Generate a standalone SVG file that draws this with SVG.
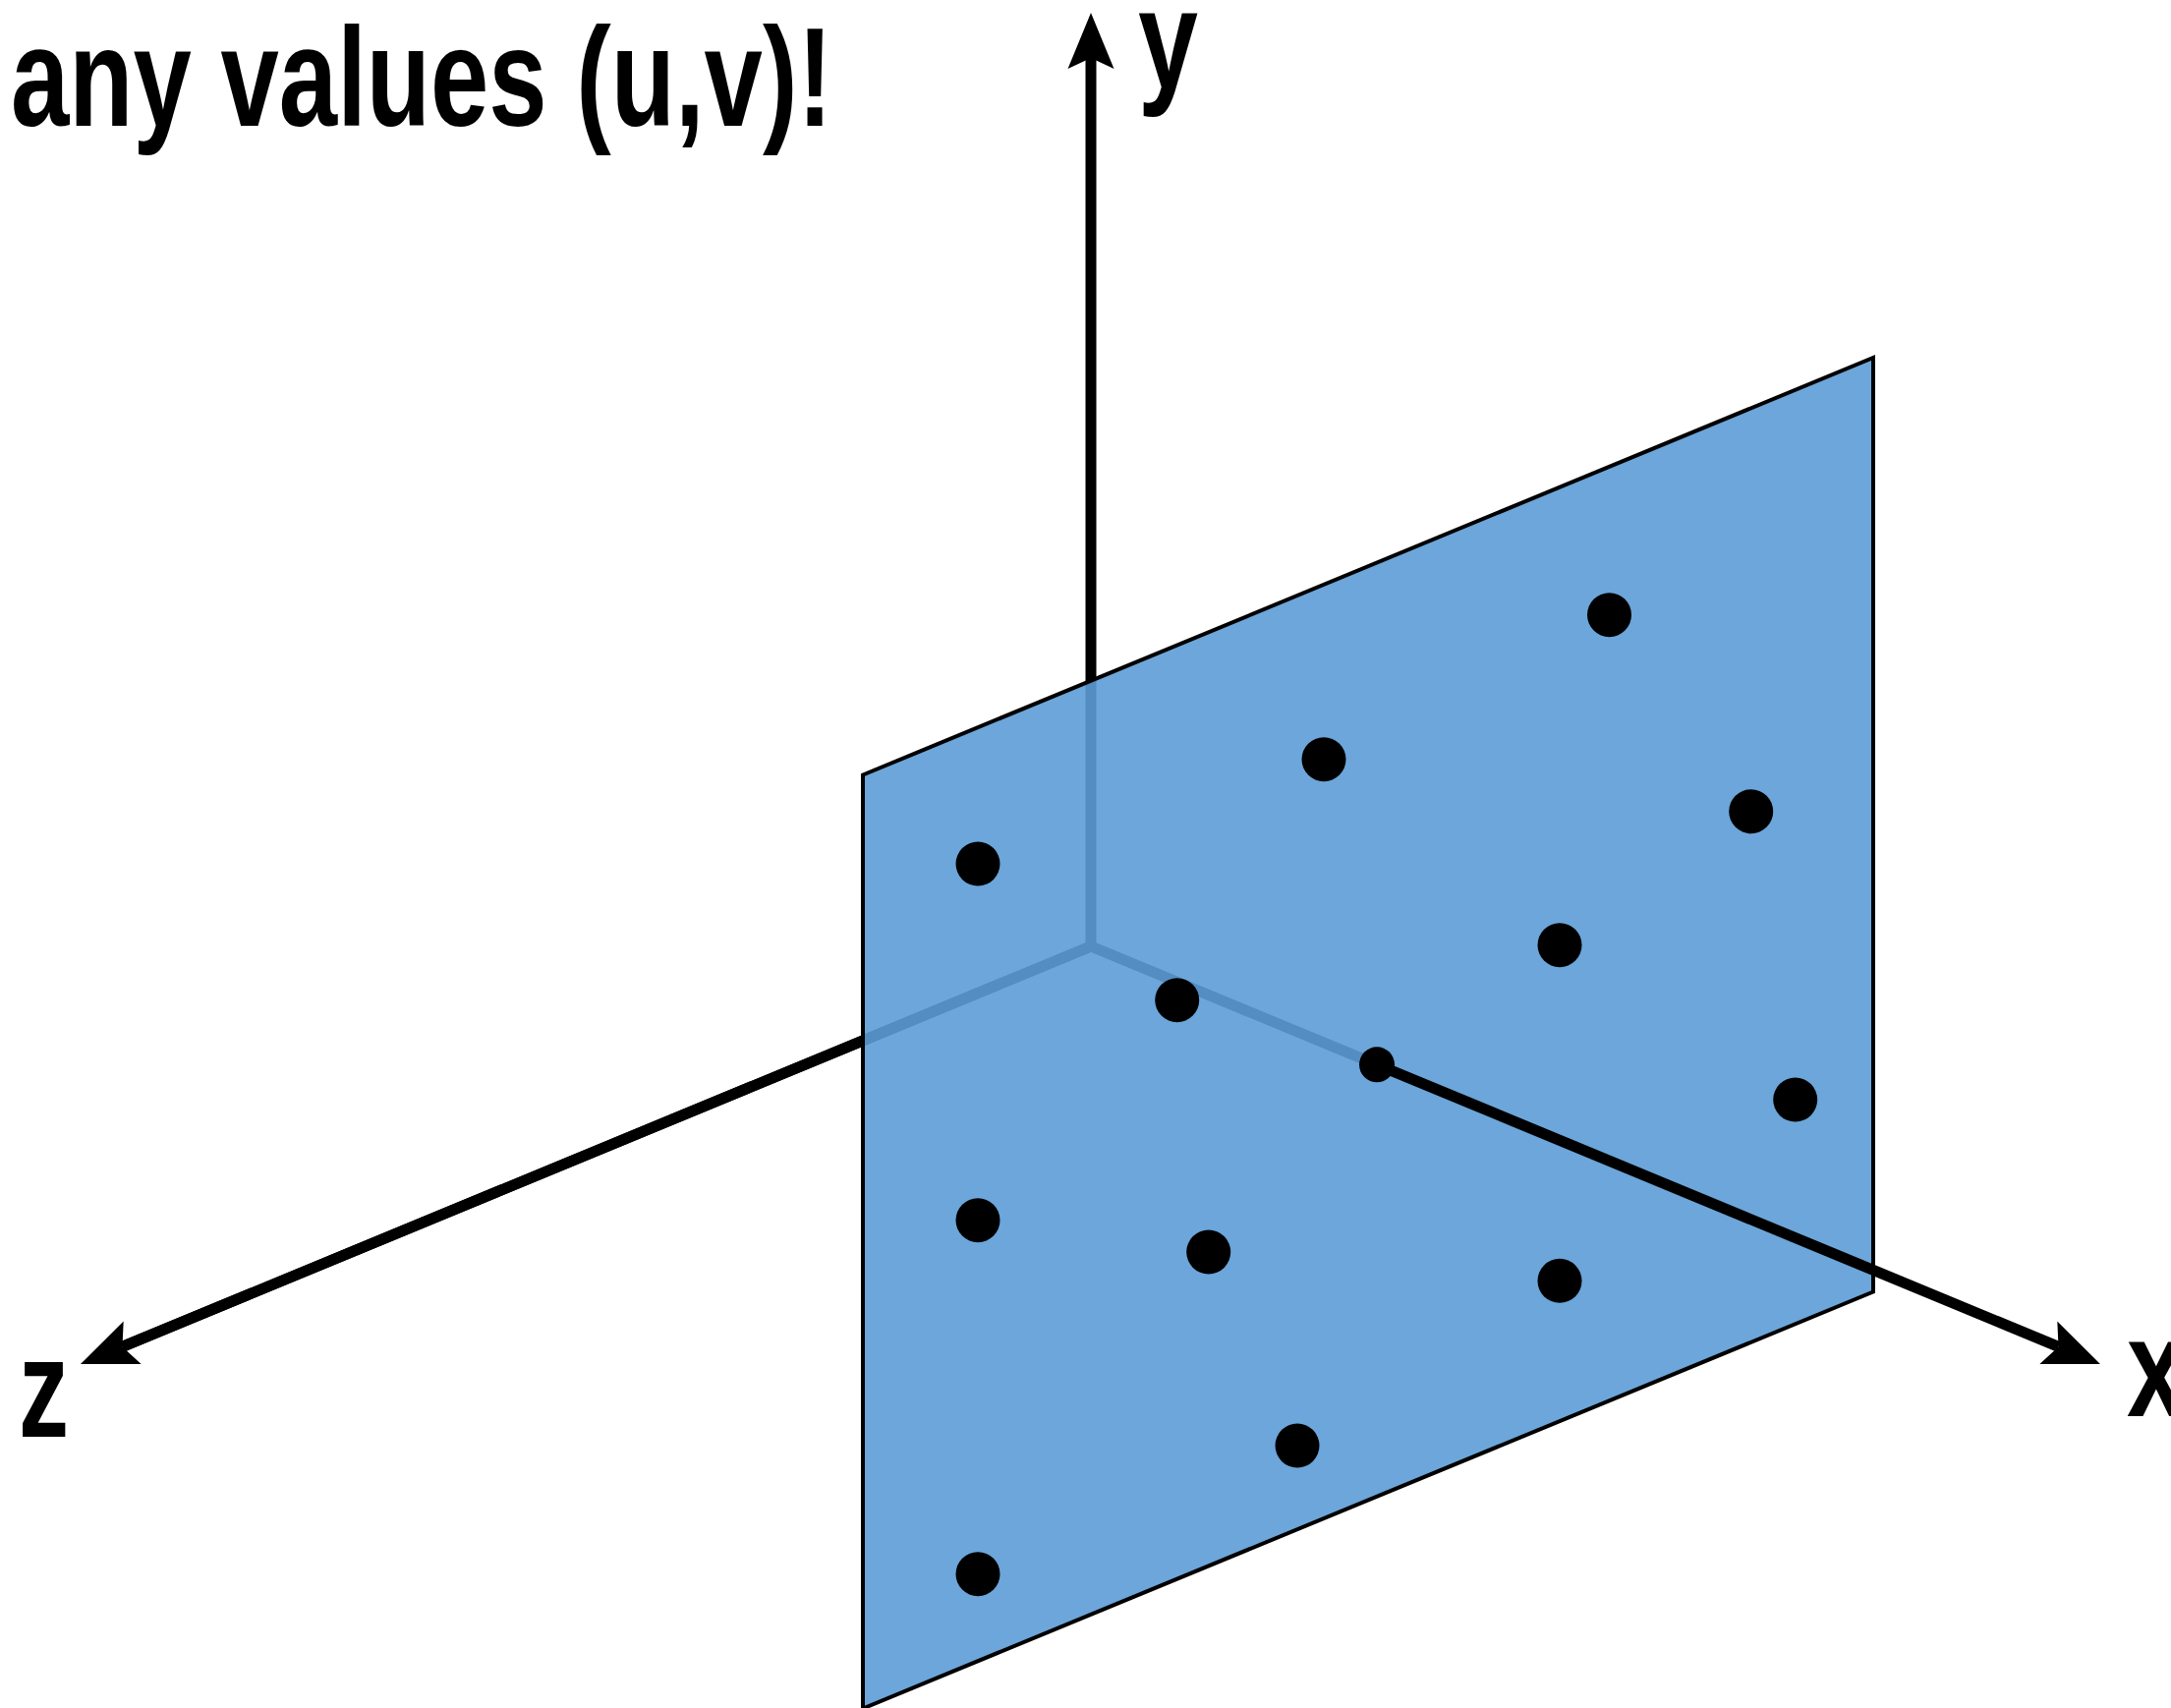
<svg xmlns="http://www.w3.org/2000/svg" width="2209" height="1738" viewBox="0 0 2209 1738">
  <style>
    .lbl { font-family: "Liberation Sans", Arial, sans-serif; font-weight: bold; font-size: 142px; fill: #000; }
    .axis { stroke: #000; stroke-width: 11; fill: none; stroke-linejoin: miter; }
    .plane { fill: #5C9CD6; fill-opacity: 0.9; stroke: #000; stroke-width: 4; stroke-linejoin: miter; }
    .pt { fill: #000; }
  </style>
  <defs>
    <marker id="arrow" markerUnits="userSpaceOnUse" orient="auto" refX="0" refY="0" markerWidth="60" markerHeight="50" overflow="visible">
      <path d="M46,0 L-11,-23.5 L0,0 L-11,23.5 Z" fill="#000"/>
    </marker>
  </defs>
  <rect width="2209" height="1738" fill="#fff"/>

  <g id="title">
    <text class="lbl" x="11" y="128" textLength="836" lengthAdjust="spacingAndGlyphs">any values (u,v)!</text>
  </g>

  <g id="connectors">
    <path id="axis-y" class="axis" d="M1110,963 L1110,59" marker-end="url(#arrow)"/>
    <path id="axis-z-x-back" class="axis" d="M124.5,1370.4 L1110,963 L1401,1083.3"/>
    <path id="axis-z-head" class="axis" d="M1110,963 L124.5,1370.4" marker-end="url(#arrow)"/>
  </g>

  <g id="plane">
    <polygon class="plane" points="878,788.5 1906,364 1906,1314.5 878,1738.5"/>
  </g>

  <g id="connectors-front">
    <path id="axis-x" class="axis" d="M1401,1083.3 L2094.5,1370.4" marker-end="url(#arrow)"/>
  </g>

  <g id="points">
    <circle class="pt" cx="1637.5" cy="625.7" r="22.5"/>
    <circle class="pt" cx="1347" cy="772.7" r="22.5"/>
    <circle class="pt" cx="1781.7" cy="825.7" r="22.5"/>
    <circle class="pt" cx="995" cy="879" r="22.5"/>
    <circle class="pt" cx="1587" cy="961.7" r="22.5"/>
    <circle class="pt" cx="1197.7" cy="1017.7" r="22.5"/>
    <circle class="pt" cx="1401" cy="1083.3" r="18"/>
    <circle class="pt" cx="1826.7" cy="1119" r="22.5"/>
    <circle class="pt" cx="995" cy="1241.7" r="22.5"/>
    <circle class="pt" cx="1229.7" cy="1274" r="22.5"/>
    <circle class="pt" cx="1587" cy="1303.3" r="22.5"/>
    <circle class="pt" cx="1320" cy="1471" r="22.5"/>
    <circle class="pt" cx="995" cy="1601.7" r="22.5"/>
  </g>

  <g id="label-y">
    <text class="lbl" x="1158" y="89" textLength="61" lengthAdjust="spacingAndGlyphs">y</text>
  </g>
  <g id="label-z">
    <text class="lbl" x="19" y="1462" textLength="51" lengthAdjust="spacingAndGlyphs">z</text>
  </g>
  <g id="label-x">
    <text class="lbl" x="2164" y="1441" textLength="60" lengthAdjust="spacingAndGlyphs">x</text>
  </g>
</svg>
